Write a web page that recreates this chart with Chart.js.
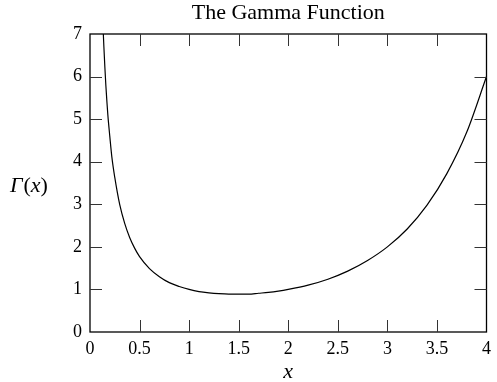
<!DOCTYPE html>
<html>
<head>
<meta charset="utf-8">
<script src="https://cdn.jsdelivr.net/npm/chart.js@4/dist/chart.umd.min.js"></script>
<style>
  html, body { margin: 0; padding: 0; background: #fff; }
  #wrap { width: 497px; height: 382px; }
</style>
</head>
<body>
<div id="wrap"><canvas id="grafica"></canvas></div>
<script>
// valores
const xValores = [0.13, 0.14, 0.15, 0.16, 0.17, 0.18, 0.2, 0.22, 0.25, 0.3, 0.35, 0.4, 0.45, 0.5,
    0.6, 0.7, 0.8, 0.9, 1.0, 1.1, 1.2, 1.3, 1.4, 1.5, 1.6, 1.7, 1.8, 1.9, 2.0,
    2.2, 2.4, 2.6, 2.8, 3.0, 3.2, 3.4, 3.6, 3.8, 4.0];
const gammaValores = [7.24, 6.70, 6.22, 5.79, 5.43, 5.10, 4.59, 4.12, 3.63, 2.99, 2.55, 2.22, 1.97, 1.77,
    1.49, 1.30, 1.16, 1.07, 1.00, 0.95, 0.92, 0.90, 0.89, 0.89, 0.89, 0.91, 0.93, 0.96, 1.00,
    1.10, 1.24, 1.43, 1.68, 2.00, 2.42, 2.98, 3.72, 4.69, 6.00];
const xTicks = [0, 0.5, 1, 1.5, 2, 2.5, 3, 3.5, 4];
const yTicks = [0, 1, 2, 3, 4, 5, 6, 7];

const titulo = 'The Gamma Function';
const etiquetaX = 'x';

const puntos = xValores.map((x, i) => ({ x: x, y: gammaValores[i] }));

const serif = '"Liberation Serif", "Times New Roman", serif';

// marcas hacia dentro en los cuatro lados, marco y textos
const marcoPlugin = {
    id: 'marco',
    afterDraw(chart) {
        const ctx = chart.ctx;
        const a = chart.chartArea;
        const sx = chart.scales.x;
        const sy = chart.scales.y;
        const largo = 12;
        ctx.save();
        ctx.strokeStyle = '#000';
        ctx.lineWidth = 1.3;
        ctx.strokeRect(a.left, a.top, a.right - a.left, a.bottom - a.top);
        ctx.lineWidth = 1;
        ctx.strokeStyle = '#333';
        ctx.beginPath();
        xTicks.slice(1, -1).forEach(v => {
            const px = Math.round(sx.getPixelForValue(v)) + 0.5;
            ctx.moveTo(px, a.bottom); ctx.lineTo(px, a.bottom - largo);
            ctx.moveTo(px, a.top); ctx.lineTo(px, a.top + largo);
        });
        yTicks.slice(1, -1).forEach(v => {
            const py = Math.round(sy.getPixelForValue(v)) + 0.5;
            ctx.moveTo(a.left, py); ctx.lineTo(a.left + largo, py);
            ctx.moveTo(a.right, py); ctx.lineTo(a.right - largo, py);
        });
        ctx.stroke();

        ctx.fillStyle = '#000';
        ctx.textBaseline = 'alphabetic';
        const cx = (a.left + a.right) / 2;
        ctx.textAlign = 'center';
        ctx.font = '22px ' + serif;
        ctx.fillText(titulo, cx, 19);
        ctx.font = 'italic 22px ' + serif;
        ctx.fillText(etiquetaX, cx, 378);

        // Γ(x): Γ y x en cursiva, paréntesis rectos
        const partes = [['Γ', 'italic '], ['(', ''], ['x', 'italic '], [')', '']];
        let px = 10;
        const base = 192;
        ctx.textAlign = 'left';
        partes.forEach(([t, estilo]) => {
            ctx.font = estilo + '22px ' + serif;
            ctx.fillText(t, px, base);
            px += ctx.measureText(t).width + (t === 'Γ' ? 1 : 0);
        });
        ctx.restore();
    }
};

const ctxGrafica = document.getElementById('grafica');

const grafica = new Chart(ctxGrafica, {
    type: 'line',
    data: {
        datasets: [{
            data: puntos,
            borderColor: '#000',
            borderWidth: 1.2,
            pointRadius: 0,
            fill: false,
            cubicInterpolationMode: 'monotone'
        }]
    },
    options: {
        responsive: true,
        maintainAspectRatio: false,
        animation: false,
        layout: { padding: { top: 34, right: 8, left: 0, bottom: 0 } },
        plugins: {
            legend: { display: false },
            tooltip: { enabled: false },
            title: { display: false }
        },
        scales: {
            x: {
                type: 'linear',
                min: 0,
                max: 4,
                afterFit: s => { s.height = 50; },
                afterBuildTicks: s => { s.ticks = xTicks.map(v => ({ value: v })); },
                grid: { display: false, drawTicks: false },
                border: { display: false },
                ticks: {
                    padding: 6,
                    color: '#000',
                    maxRotation: 0,
                    font: { family: serif, size: 18 },
                    callback: v => String(v)
                }
            },
            y: {
                type: 'linear',
                min: 0,
                max: 7,
                afterFit: s => { s.width = 90; },
                afterBuildTicks: s => { s.ticks = yTicks.map(v => ({ value: v })); },
                grid: { display: false, drawTicks: false },
                border: { display: false },
                ticks: {
                    padding: 8,
                    color: '#000',
                    font: { family: serif, size: 18 },
                    callback: v => String(v)
                }
            }
        }
    },
    plugins: [marcoPlugin]
});
</script>
</body>
</html>
